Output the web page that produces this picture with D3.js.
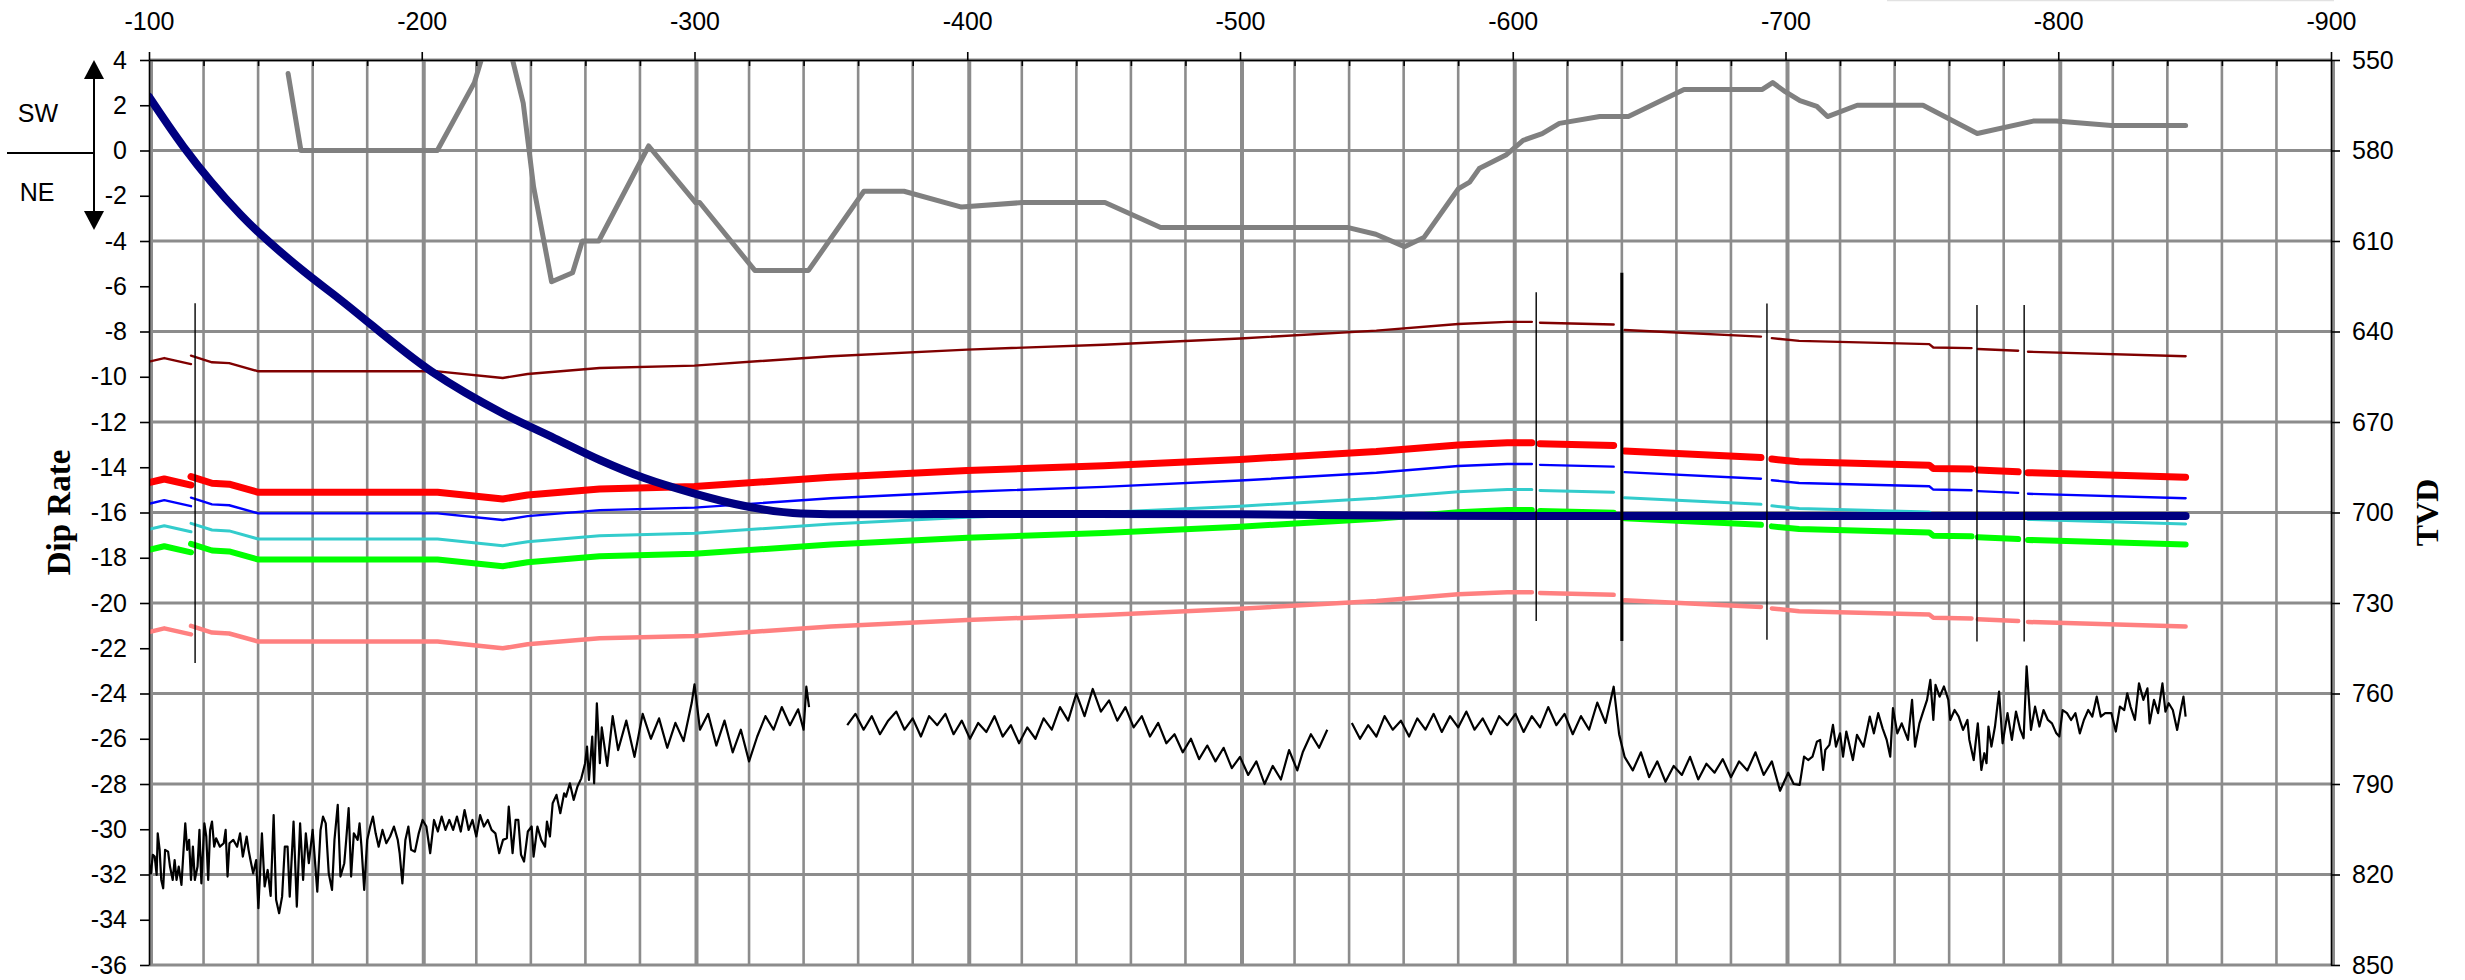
<!DOCTYPE html>
<html>
<head>
<meta charset="utf-8">
<script src="https://cdn.jsdelivr.net/npm/d3@7"></script>
<style>
  html, body { margin: 0; padding: 0; background: #fff; }
  svg { display: block; }
  text { font-family: "Liberation Sans", Arial, sans-serif; fill: #000; }
</style>
</head>
<body>
<svg id="chart" width="2465" height="980"></svg>
<script>
// ---- axis ticks ----
const xTicks = [-100, -200, -300, -400, -500, -600, -700, -800, -900];
const dipTicks = [4, 2, 0, -2, -4, -6, -8, -10, -12, -14, -16, -18, -20, -22, -24, -26, -28, -30, -32, -34, -36];
const tvdTicks = [550, 580, 610, 640, 670, 700, 730, 760, 790, 820, 850];

// ---- dip rate along the section (+ = SW, - = NE) ----
const dipRate = [
  [-151, 3.4], [-155.7, 0], [-205.7, 0], [-219.3, 3.0], [-221.8, 4.0], [-227.5, 5.6], [-233.3, 4.0],
  [-237.2, 2.1], [-241, -1.6], [-247.6, -5.8], [-255.3, -5.4], [-258.9, -4.0], [-264.9, -4.0],
  [-283.2, 0.2], [-300.4, -2.3], [-301.9, -2.3], [-322.1, -5.3], [-341.8, -5.3], [-362.1, -1.8],
  [-376.8, -1.8], [-397.9, -2.5], [-420.3, -2.3], [-450.5, -2.3], [-470.9, -3.4], [-539.3, -3.4],
  [-549.8, -3.7], [-560.3, -4.25], [-567.4, -3.85], [-580, -1.7], [-584.2, -1.4], [-587.7, -0.8],
  [-597.5, -0.2], [-603.8, 0.45], [-610.8, 0.75], [-617.1, 1.2], [-631.9, 1.5], [-642.4, 1.5],
  [-662.8, 2.7], [-691.5, 2.7], [-695.3, 3.0], [-699.9, 2.6], [-705.3, 2.2], [-711.5, 1.95],
  [-715.4, 1.5], [-726.3, 2.0], [-750.4, 2.0], [-770.3, 0.75], [-790.8, 1.3], [-799.3, 1.3],
  [-819.5, 1.1], [-846.7, 1.1]
];

// ---- well path (TVD) ----
const wellX   = [-100, -112.6, -133.7, -156.1, -169.5, -203.8, -229.8, -248.7, -265.3, -281.6, -299.4, -312, -324, -339, -360, -400, -500, -560, -700, -846.7];
const wellTvd = [562.2, 578.7, 601.4, 619.6, 629.0, 653.4, 667.2, 675.4, 682.6, 688.6, 693.6, 696.6, 698.8, 700.3, 700.6, 700.5, 700.6, 701.1, 701.2, 701.2];

// ---- mapped horizons (TVD), broken at the faults ----
const horizonX = [-100, -105.6, -115.4, null, -115.4, -123.1, -129.4, -140.1, -205.8, -229.7, -238.8, -265.2, -300, -350, -400, -450, -500, -550, -580, -598, -607, null, -610, -637, null, -641, -691, null, -695, -705, -752.7, -754.2, -768.2, null, -770.5, -785.3, null, -788.9, -846.7];
const hDarkRed = [650.0, 648.8, 650.8, null, 648.0, 650.2, 650.5, 653.2, 653.2, 655.4, 654.1, 652.1, 651.3, 648.2, 646.0, 644.4, 642.3, 639.7, 637.5, 636.8, 636.8, null, 637.1, 637.7, null, 639.5, 641.7, null, 642.2, 643.1, 644.2, 645.3, 645.5, null, 645.8, 646.4, null, 646.7, 648.2];
const hRed     = [690.1, 688.9, 690.9, null, 688.1, 690.3, 690.6, 693.3, 693.3, 695.5, 694.2, 692.2, 691.4, 688.3, 686.1, 684.5, 682.4, 679.8, 677.6, 676.9, 676.9, null, 677.2, 677.8, null, 679.6, 681.8, null, 682.3, 683.2, 684.3, 685.4, 685.6, null, 685.9, 686.5, null, 686.8, 688.3];
const hBlue    = [697.1, 695.9, 697.9, null, 695.1, 697.3, 697.6, 700.3, 700.3, 702.5, 701.2, 699.2, 698.4, 695.3, 693.1, 691.5, 689.4, 686.8, 684.6, 683.9, 683.9, null, 684.2, 684.8, null, 686.6, 688.8, null, 689.3, 690.2, 691.3, 692.4, 692.6, null, 692.9, 693.5, null, 693.8, 695.3];
const hCyan    = [705.6, 704.4, 706.4, null, 703.6, 705.8, 706.1, 708.8, 708.8, 711.0, 709.7, 707.7, 706.9, 703.8, 701.6, 700.0, 697.9, 695.3, 693.1, 692.4, 692.4, null, 692.7, 693.3, null, 695.1, 697.3, null, 697.8, 698.7, 699.8, 700.9, 701.1, null, 701.4, 702.0, null, 702.3, 703.8];
const hGreen   = [712.4, 711.2, 713.2, null, 710.4, 712.6, 712.9, 715.6, 715.6, 717.8, 716.5, 714.5, 713.7, 710.6, 708.4, 706.8, 704.7, 702.1, 699.9, 699.2, 699.2, null, 699.5, 700.1, null, 701.9, 704.1, null, 704.6, 705.5, 706.6, 707.7, 707.9, null, 708.2, 708.8, null, 709.1, 710.6];
const hPink    = [739.6, 738.4, 740.4, null, 737.6, 739.8, 740.1, 742.8, 742.8, 745.0, 743.7, 741.7, 740.9, 737.8, 735.6, 734.0, 731.9, 729.3, 727.1, 726.4, 726.4, null, 726.7, 727.3, null, 729.1, 731.3, null, 731.8, 732.7, 733.8, 734.9, 735.1, null, 735.4, 736.0, null, 736.3, 737.8];

// ---- faults ----
const faultX      = [-116.9, -608.6, -640.0, -693.2, -770.2, -787.5];
const faultTop    = [630.6, 627.0, 620.5, 630.7, 631.2, 631.2];
const faultBottom = [749.9, 736.0, 742.6, 742.2, 742.8, 742.8];
const mainFault = -640.0;

// ---- log trace (read on the dip-rate scale) ----
const logTrace = [
  [-100.0,-31.50],[-100.7,-31.95],[-101.4,-31.13],[-102.1,-31.21],[-102.8,-32.02],[-103.2,-30.18],[-103.9,-30.91],[-104.5,-32.24],
  [-105.2,-32.61],[-105.9,-30.91],[-107.0,-30.99],[-107.7,-31.65],[-108.7,-32.24],[-109.4,-31.36],[-110.1,-32.24],[-110.9,-31.65],
  [-111.9,-32.46],[-112.6,-31.06],[-113.3,-29.74],[-114.0,-30.91],[-114.7,-30.47],[-115.4,-32.24],[-116.1,-30.77],[-116.8,-32.24],
  [-117.8,-31.65],[-118.5,-30.03],[-119.2,-32.39],[-120.3,-29.74],[-121.0,-30.32],[-121.7,-32.24],[-122.4,-30.03],[-123.1,-29.66],
  [-123.9,-30.77],[-124.6,-30.40],[-126.0,-30.77],[-127.4,-30.62],[-128.1,-30.03],[-128.8,-32.09],[-129.5,-30.62],[-130.9,-30.47],
  [-132.3,-30.77],[-133.4,-30.18],[-134.4,-31.21],[-135.8,-30.32],[-136.5,-30.91],[-137.2,-31.36],[-138.2,-31.95],[-139.3,-31.36],
  [-140.1,-33.49],[-141.4,-30.18],[-142.4,-32.53],[-143.5,-31.80],[-144.6,-32.95],[-145.7,-29.37],[-146.6,-33.12],[-147.7,-33.71],
  [-148.8,-32.98],[-149.8,-30.77],[-150.8,-30.77],[-151.6,-32.98],[-153.0,-29.66],[-154.2,-33.42],[-155.4,-29.74],[-156.5,-32.24],
  [-157.5,-30.18],[-158.6,-31.50],[-160.0,-30.03],[-161.0,-31.65],[-161.7,-32.76],[-162.9,-30.03],[-163.8,-29.44],[-164.8,-29.74],
  [-165.9,-31.95],[-167.1,-32.68],[-168.0,-30.47],[-169.2,-28.92],[-170.2,-32.09],[-171.6,-31.50],[-172.3,-30.47],[-173.2,-29.07],
  [-174.1,-32.09],[-175.1,-30.18],[-176.5,-30.47],[-177.2,-29.74],[-177.9,-30.77],[-178.9,-32.68],[-180.0,-30.47],[-181.1,-29.88],
  [-182.1,-29.44],[-183.1,-30.18],[-184.2,-30.77],[-185.6,-30.03],[-187.0,-30.62],[-188.4,-30.32],[-189.8,-29.88],[-191.2,-30.47],
  [-191.9,-31.06],[-192.9,-32.39],[-194.0,-30.47],[-195.1,-29.88],[-196.1,-30.91],[-197.5,-30.99],[-198.9,-30.18],[-200.3,-29.59],
  [-201.7,-29.88],[-203.1,-31.06],[-204.5,-29.59],[-205.9,-30.10],[-207.3,-29.44],[-208.7,-30.03],[-210.1,-29.59],[-211.5,-30.03],
  [-212.9,-29.44],[-214.3,-30.10],[-215.7,-29.15],[-217.2,-30.03],[-218.6,-29.59],[-220.0,-30.32],[-221.4,-29.37],[-222.8,-29.88],
  [-224.2,-29.59],[-225.6,-30.03],[-227.0,-30.18],[-228.4,-31.06],[-229.8,-30.47],[-231.2,-30.40],[-231.9,-29.00],[-233.3,-31.06],
  [-234.4,-29.59],[-235.4,-29.59],[-236.4,-31.13],[-237.5,-31.43],[-238.9,-30.10],[-240.3,-29.88],[-241.0,-31.21],[-242.4,-29.88],
  [-243.8,-30.47],[-245.2,-30.77],[-245.9,-29.66],[-247.0,-30.32],[-248.0,-28.85],[-249.4,-28.48],[-250.8,-29.29],[-252.2,-28.41],
  [-252.9,-28.56],[-254.3,-27.97],[-255.7,-28.70],[-257.1,-28.11],[-258.5,-27.75],[-259.9,-27.08],[-260.6,-26.35],[-261.3,-27.82],
  [-262.5,-25.90],[-263.2,-27.97],[-264.2,-24.43],[-265.3,-27.08],
  [-266,-25.5],[-268,-27.2],[-270,-25.0],[-272,-26.5],[-275,-25.2],[-278,-26.8],[-281,-24.9],[-284,-26.0],[-287,-25.1],[-290,-26.4],
  [-293,-25.3],[-296,-26.1],[-299,-24.4],[-300,-23.6],[-302,-25.6],[-305,-24.9],[-308,-26.3],[-311,-25.2],[-314,-26.6],[-317,-25.6],
  [-320,-27.0],[-323,-25.9],[-326,-25.0],[-329,-25.6],[-332,-24.6],[-335,-25.4],[-338,-24.7],[-340,-25.6],[-341,-23.7],[-342,-24.6],
  null,
  [-356,-25.4],[-359,-24.9],[-362,-25.6],[-365,-25.0],[-368,-25.8],[-371,-25.2],[-374,-24.8],[-377,-25.6],[-380,-25.1],[-383,-25.9],
  [-386,-25.0],[-389,-25.4],[-392,-24.9],[-395,-25.8],[-398,-25.2],[-401,-26.0],[-404,-25.3],[-407,-25.7],[-410,-25.0],[-413,-25.9],
  [-416,-25.4],[-419,-26.2],[-422,-25.5],[-425,-26.0],[-428,-25.1],[-431,-25.6],[-434,-24.6],[-437,-25.2],[-440,-24.0],[-443,-25.0],
  [-446,-23.8],[-449,-24.8],[-452,-24.3],[-455,-25.2],[-458,-24.6],[-461,-25.5],[-464,-25.0],[-467,-25.9],[-470,-25.3],[-473,-26.2],
  [-476,-25.8],[-479,-26.6],[-482,-26.0],[-485,-26.9],[-488,-26.3],[-491,-27.0],[-494,-26.4],[-497,-27.3],[-500,-26.8],[-503,-27.6],
  [-506,-27.0],[-509,-28.0],[-512,-27.2],[-515,-27.8],[-518,-26.5],[-521,-27.4],[-523,-26.6],[-526,-25.8],[-529,-26.4],[-532,-25.6],
  null,
  [-541,-25.3],[-544,-26.0],[-547,-25.4],[-550,-25.9],[-553,-25.0],[-556,-25.6],[-559,-25.2],[-562,-25.9],[-565,-25.1],[-568,-25.6],
  [-571,-24.9],[-574,-25.7],[-577,-25.0],[-580,-25.5],[-583,-24.8],[-586,-25.6],[-589,-25.1],[-592,-25.8],[-595,-25.0],[-598,-25.4],
  [-601,-24.9],[-604,-25.7],[-607,-25.0],[-610,-25.5],[-613,-24.6],[-616,-25.4],[-619,-24.9],[-622,-25.8],[-625,-25.0],[-628,-25.6],
  [-631,-24.4],[-634,-25.3],[-637,-23.7],[-639,-25.8],[-641,-26.8],[-644,-27.4],[-647,-26.6],[-650,-27.7],[-653,-27.0],[-656,-27.9],
  [-659,-27.2],[-662,-27.6],[-665,-26.8],[-668,-27.8],[-671,-27.1],[-674,-27.5],[-677,-26.9],[-680,-27.7],[-683,-27.0],[-686,-27.4],
  [-689,-26.6],[-692,-27.6],[-695,-27.0],[-698,-28.3],[-701,-27.5],[-703,-28.0],
  [-705.2,-28.04],[-706.8,-26.79],[-708.3,-26.94],[-709.9,-26.79],[-711.5,-26.13],[-712.7,-26.05],[-713.8,-27.38],[-714.6,-26.49],
  [-716.1,-26.27],[-717.4,-25.39],[-718.5,-26.35],[-720.0,-25.76],[-721.1,-26.79],[-722.3,-25.68],[-724.7,-26.94],[-726.2,-25.83],
  [-728.6,-26.35],[-730.9,-25.02],[-732.4,-25.76],[-734.0,-24.87],[-735.6,-25.54],[-737.1,-26.05],[-738.4,-26.79],[-739.4,-24.65],
  [-741.0,-25.76],[-742.6,-25.32],[-744.9,-26.05],[-746.4,-24.28],[-747.5,-26.35],[-749.1,-25.32],[-750.3,-24.87],[-751.9,-24.28],
  [-753.1,-23.40],[-754.2,-25.17],[-755.0,-23.62],[-756.5,-24.14],[-758.1,-23.69],[-759.7,-24.28],[-760.4,-25.17],[-762.0,-24.73],
  [-763.5,-25.02],[-765.1,-25.61],[-766.7,-25.17],[-767.4,-26.05],[-769.0,-26.94],[-770.5,-25.32],[-771.8,-27.38],[-772.9,-26.64],
  [-773.7,-27.08],[-774.4,-25.46],[-775.5,-26.35],[-776.8,-25.46],[-778.3,-23.92],[-779.6,-26.20],[-781.4,-24.87],[-783.0,-26.05],
  [-784.5,-24.80],[-786.1,-25.61],[-787.3,-25.98],[-788.4,-22.80],[-790.0,-25.61],[-791.5,-24.58],[-793.1,-25.46],[-794.6,-24.73],
  [-796.2,-25.17],[-797.7,-25.32],[-799.3,-25.76],[-800.4,-25.90],[-801.6,-24.73],[-803.2,-24.87],[-804.7,-25.17],[-806.3,-24.87],
  [-807.9,-25.76],[-809.4,-25.17],[-811.0,-24.73],[-812.5,-25.02],[-814.1,-24.14],[-815.6,-25.02],[-817.2,-24.87],[-819.5,-24.87],
  [-821.1,-25.68],[-822.6,-24.58],[-824.2,-24.73],[-825.3,-23.99],[-826.5,-24.58],[-828.1,-25.17],[-829.6,-23.55],[-831.2,-24.28],
  [-832.7,-23.77],[-833.5,-25.32],[-835.1,-24.28],[-836.6,-24.87],[-838.2,-23.55],[-839.3,-24.80],[-840.5,-24.43],[-842.0,-24.73],
  [-843.6,-25.61],[-844.9,-24.73],[-845.9,-24.14],[-846.7,-25.02]
];

// ---- scales ----
const plot = { left: 149, right: 2331, top: 60, bottom: 965 };
const x = d3.scaleLinear().domain([-100, -900]).range([plot.left, plot.right]);
const yDip = d3.scaleLinear().domain([-36, 4]).range([plot.bottom, plot.top]);
const yTvd = d3.scaleLinear().domain([850, 550]).range([plot.bottom, plot.top]);

const svg = d3.select("#chart");
const GRID = "#8c8c8c";

svg.append("defs").append("clipPath").attr("id", "plotClip")
  .append("rect")
  .attr("x", plot.left).attr("y", plot.top)
  .attr("width", plot.right - plot.left).attr("height", plot.bottom - plot.top);

// faint rule along the very top edge
svg.append("line")
  .attr("x1", 1887).attr("x2", 2334).attr("y1", 0.5).attr("y2", 0.5)
  .attr("stroke", "#e2e2e2").attr("stroke-width", 1.5);

// ---- grid ----
const grid = svg.append("g");
const minorX = x.ticks(40).filter(v => v % 100 !== 0);
grid.selectAll("line.minor").data(minorX).join("line")
  .attr("x1", d => x(d)).attr("x2", d => x(d))
  .attr("y1", plot.top).attr("y2", plot.bottom)
  .attr("stroke", GRID).attr("stroke-width", 2.6);
grid.selectAll("line.htick").data(tvdTicks).join("line")
  .attr("x1", plot.left).attr("x2", plot.right)
  .attr("y1", d => yTvd(d)).attr("y2", d => yTvd(d))
  .attr("stroke", GRID).attr("stroke-width", 3);
grid.selectAll("line.major").data(xTicks).join("line")
  .attr("x1", d => x(d) + 2).attr("x2", d => x(d) + 2)
  .attr("y1", plot.top).attr("y2", plot.bottom)
  .attr("stroke", GRID).attr("stroke-width", 4);

// ---- series ----
const marks = svg.append("g").attr("clip-path", "url(#plotClip)");

const horizons = [
  { tvd: hPink,    color: "#ff8080", width: 4.5 },
  { tvd: hGreen,   color: "#00ff00", width: 6 },
  { tvd: hCyan,    color: "#33cccc", width: 3 },
  { tvd: hBlue,    color: "#0000ff", width: 2.4 },
  { tvd: hRed,     color: "#ff0000", width: 7 },
  { tvd: hDarkRed, color: "#800000", width: 2.4 }
];
const tvdLine = d3.line()
  .defined(d => d[0] != null && d[1] != null)
  .x(d => x(d[0])).y(d => yTvd(d[1]));
horizons.forEach(h => {
  marks.append("path")
    .datum(horizonX.map((v, i) => [v, h.tvd[i]]))
    .attr("d", tvdLine)
    .attr("fill", "none").attr("stroke", h.color).attr("stroke-width", h.width)
    .attr("stroke-linecap", "round").attr("stroke-linejoin", "round");
});

// well path
marks.append("path")
  .datum(wellX.map((v, i) => [v, wellTvd[i]]))
  .attr("d", d3.line().x(d => x(d[0])).y(d => yTvd(d[1])).curve(d3.curveMonotoneX))
  .attr("fill", "none").attr("stroke", "#000080").attr("stroke-width", 8)
  .attr("stroke-linecap", "round");

// dip rate
marks.append("path")
  .datum(dipRate)
  .attr("d", d3.line().x(d => x(d[0])).y(d => yDip(d[1])))
  .attr("fill", "none").attr("stroke", "#808080").attr("stroke-width", 5)
  .attr("stroke-linejoin", "round").attr("stroke-linecap", "round");

// log trace
marks.append("path")
  .datum(logTrace)
  .attr("d", d3.line().defined(d => d != null).x(d => x(d[0])).y(d => yDip(d[1])))
  .attr("fill", "none").attr("stroke", "#000").attr("stroke-width", 2.2)
  .attr("stroke-linejoin", "round");

// faults
marks.selectAll("line.fault").data(faultX).join("line")
  .attr("x1", d => x(d)).attr("x2", d => x(d))
  .attr("y1", (d, i) => yTvd(faultTop[i])).attr("y2", (d, i) => yTvd(faultBottom[i]))
  .attr("stroke", "#000").attr("stroke-width", d => d === mainFault ? 3 : 1.4);

// ---- axes ----
const fmt = d => String(d);
const styleAxis = g => {
  g.selectAll("path.domain").attr("stroke", "#000").attr("stroke-width", 1.6);
  g.selectAll(".tick line").attr("stroke", "#000").attr("stroke-width", 1.6);
  g.selectAll("text").attr("font-size", 25).attr("font-family", "'Liberation Sans', Arial, sans-serif").attr("fill", "#000");
};

svg.append("g").attr("transform", `translate(0,${plot.top})`)
  .call(d3.axisBottom(x).tickValues(minorX).tickSize(6).tickFormat("").tickSizeOuter(0))
  .call(g => g.select("path.domain").remove())
  .call(styleAxis);

svg.append("g").attr("transform", `translate(0,${plot.top})`)
  .call(d3.axisTop(x).tickValues(xTicks).tickSize(8).tickPadding(22).tickFormat(fmt).tickSizeOuter(0))
  .call(styleAxis);

svg.append("g").attr("transform", `translate(${plot.left},0)`)
  .call(d3.axisLeft(yDip).tickValues(dipTicks).tickSize(9).tickPadding(13).tickFormat(fmt).tickSizeOuter(0))
  .call(styleAxis);

svg.append("g").attr("transform", `translate(${plot.right},0)`)
  .call(d3.axisRight(yTvd).tickValues(tvdTicks).tickSize(9).tickPadding(12).tickFormat(fmt).tickSizeOuter(0))
  .call(styleAxis);

// ---- axis titles ----
svg.append("text")
  .attr("transform", `translate(59,${(plot.top + plot.bottom) / 2}) rotate(-90)`)
  .attr("text-anchor", "middle").attr("dominant-baseline", "central")
  .style("font-family", "'Liberation Serif', 'Times New Roman', serif")
  .style("font-weight", "bold").style("font-size", "33px")
  .text("Dip Rate");

svg.append("text")
  .attr("transform", `translate(2427,${(plot.top + plot.bottom) / 2}) rotate(-90)`)
  .attr("text-anchor", "middle").attr("dominant-baseline", "central")
  .style("font-family", "'Liberation Serif', 'Times New Roman', serif")
  .style("font-weight", "bold").style("font-size", "32px")
  .text("TVD");

// ---- SW / NE direction key ----
const key = svg.append("g");
key.append("line").attr("x1", 7).attr("x2", 94).attr("y1", 153).attr("y2", 153)
  .attr("stroke", "#000").attr("stroke-width", 2);
key.append("line").attr("x1", 94).attr("x2", 94).attr("y1", 70).attr("y2", 220)
  .attr("stroke", "#000").attr("stroke-width", 2);
key.append("path").attr("d", "M94,60 L84,79 L104,79 Z").attr("fill", "#000");
key.append("path").attr("d", "M94,230 L84,211 L104,211 Z").attr("fill", "#000");
key.append("text").attr("x", 38).attr("y", 113).attr("text-anchor", "middle")
  .attr("dominant-baseline", "central").style("font-size", "25px").text("SW");
key.append("text").attr("x", 37).attr("y", 192).attr("text-anchor", "middle")
  .attr("dominant-baseline", "central").style("font-size", "25px").text("NE");
</script>
</body>
</html>
